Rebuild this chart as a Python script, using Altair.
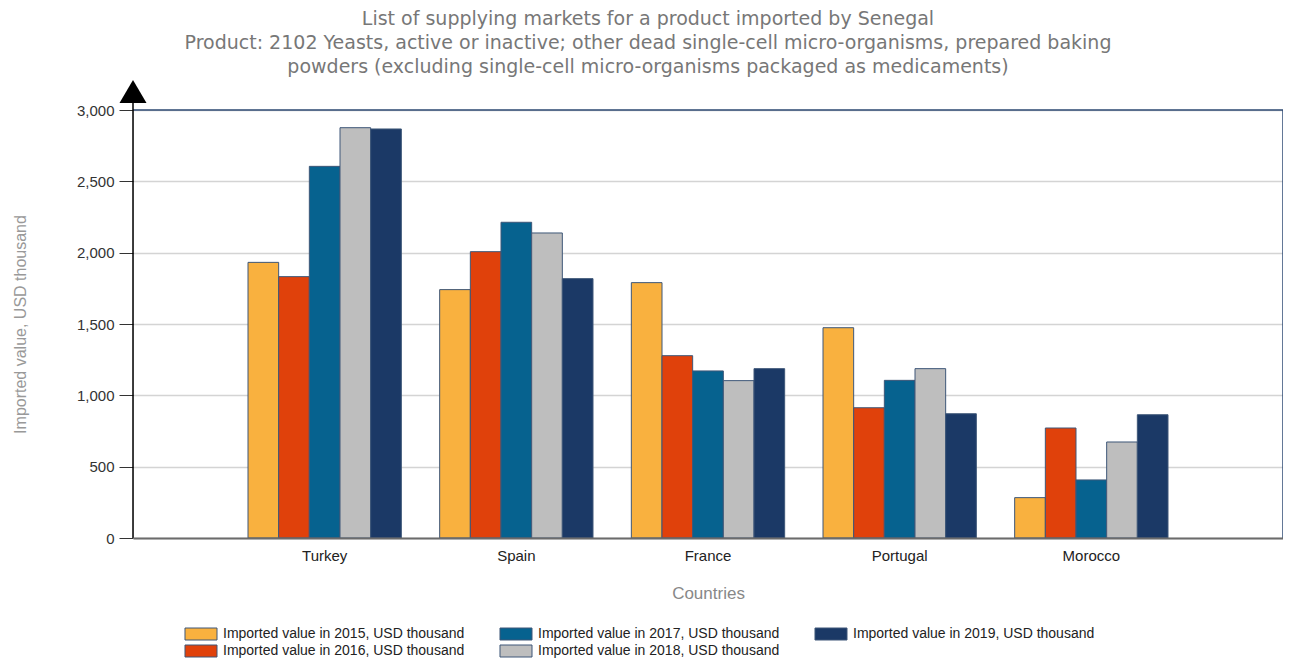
import altair as alt
import pandas as pd

countries = ["Turkey", "Spain", "France", "Portugal", "Morocco"]
years = ["2015", "2016", "2017", "2018", "2019"]
v2015 = [1932, 1741, 1790, 1474, 283]
v2016 = [1832, 2007, 1278, 913, 771]
v2017 = [2605, 2213, 1171, 1105, 407]
v2018 = [2876, 2138, 1103, 1187, 673]
v2019 = [2867, 1818, 1187, 871, 864]
year_colors = ["#F9B13F", "#E0410B", "#06628F", "#BEBEBE", "#1B3966"]

values_by_year = [v2015, v2016, v2017, v2018, v2019]
series = [f"Imported value in {y}, USD thousand" for y in years]

rows = []
for s, vals in zip(series, values_by_year):
    for c, v in zip(countries, vals):
        rows.append({"country": c, "series": s, "value": v})
df = pd.DataFrame(rows)

# legend is filled row by row: order so that columns read 2015/2016, 2017/2018, 2019
legend_idx = [0, 2, 4, 1, 3]
legend_domain = [series[i] for i in legend_idx]
legend_range = [year_colors[i] for i in legend_idx]

W, H = 1150, 428

bars = alt.Chart(df).mark_bar(stroke="#3E5778", strokeWidth=1).encode(
    x=alt.X("country:N", sort=countries,
            scale=alt.Scale(paddingInner=0.2, paddingOuter=0.6),
            axis=alt.Axis(title="Countries", ticks=False, domainColor="#6B6B6B",
                          domainWidth=2, labelAngle=0, labelFont="Liberation Sans",
                          labelFontSize=15, labelColor="#222222", labelPadding=10,
                          titleFont="Liberation Sans", titleFontSize=17,
                          titleFontWeight="normal", titleColor="#888888",
                          titlePadding=22, zindex=1)),
    xOffset=alt.XOffset("series:N", sort=series,
                        scale=alt.Scale(paddingInner=0, paddingOuter=0)),
    y=alt.Y("value:Q", scale=alt.Scale(domain=[0, 3000], nice=False),
            axis=alt.Axis(title="Imported value, USD thousand",
                          values=[0, 500, 1000, 1500, 2000, 2500, 3000],
                          format=",.0f", domain=False, grid=True, gridColor="#D4D4D4",
                          gridWidth=1.5, tickColor="#333333", tickSize=14,
                          labelFont="Liberation Sans", labelFontSize=15,
                          labelColor="#333333", labelPadding=5,
                          titleFont="Liberation Sans", titleFontSize=16,
                          titleFontWeight="normal", titleColor="#999999",
                          titleX=-113, titleY=214, titleAngle=270,
                          titleAlign="center", titleBaseline="middle")),
    color=alt.Color("series:N",
                    scale=alt.Scale(domain=legend_domain, range=legend_range),
                    legend=alt.Legend(title=None, orient="none", legendX=61,
                                      legendY=517, columns=3, direction="horizontal",
                                      symbolType="M-2.667,-1L2.667,-1L2.667,1L-2.667,1Z",
                                      symbolSize=144, symbolStrokeColor="#3E5778",
                                      symbolStrokeWidth=1, symbolOpacity=1,
                                      labelFont="Liberation Sans", labelFontSize=14,
                                      labelColor="#222222", labelLimit=400,
                                      columnPadding=32, rowPadding=1, labelOffset=15,
                                      padding=0)),
)

one = pd.DataFrame({"k": [0]})
frame_top = alt.Chart(one).mark_rule(color="#2F4B74", strokeWidth=1.5).encode(
    x=alt.value(0), x2=alt.value(W), y=alt.value(0))
frame_right = alt.Chart(one).mark_rule(color="#2F4B74", strokeWidth=1.5).encode(
    x=alt.value(W), y=alt.value(0), y2=alt.value(H))
y_line = alt.Chart(one).mark_rule(color="#000000", strokeWidth=1.5).encode(
    x=alt.value(0), y=alt.value(-8), y2=alt.value(H))
arrow = alt.Chart(one).mark_point(
    shape="M-1,1L1,1L0,-0.7Z", filled=True, color="#000000", opacity=1, size=729
).encode(x=alt.value(0), y=alt.value(-20.5))

chart = alt.layer(bars, frame_top, frame_right, y_line, arrow).properties(
    width=W, height=H,
    title=alt.Title(
        ["List of supplying markets for a product imported by Senegal",
         "Product: 2102 Yeasts, active or inactive; other dead single-cell micro-organisms, prepared baking",
         "powders (excluding single-cell micro-organisms packaged as medicaments)"],
        font="DejaVu Sans", fontSize=19, fontWeight="normal", color="#777777",
        anchor="middle", frame="group", dx=-60, offset=3, lineHeight=24),
    autosize=alt.AutoSizeParams(type="none"),
    padding={"left": 125, "top": 102, "right": 0, "bottom": 120},
).configure_view(stroke=None).configure(background="white")

chart.save("out.html", embed_options={"renderer": "svg", "actions": False})
